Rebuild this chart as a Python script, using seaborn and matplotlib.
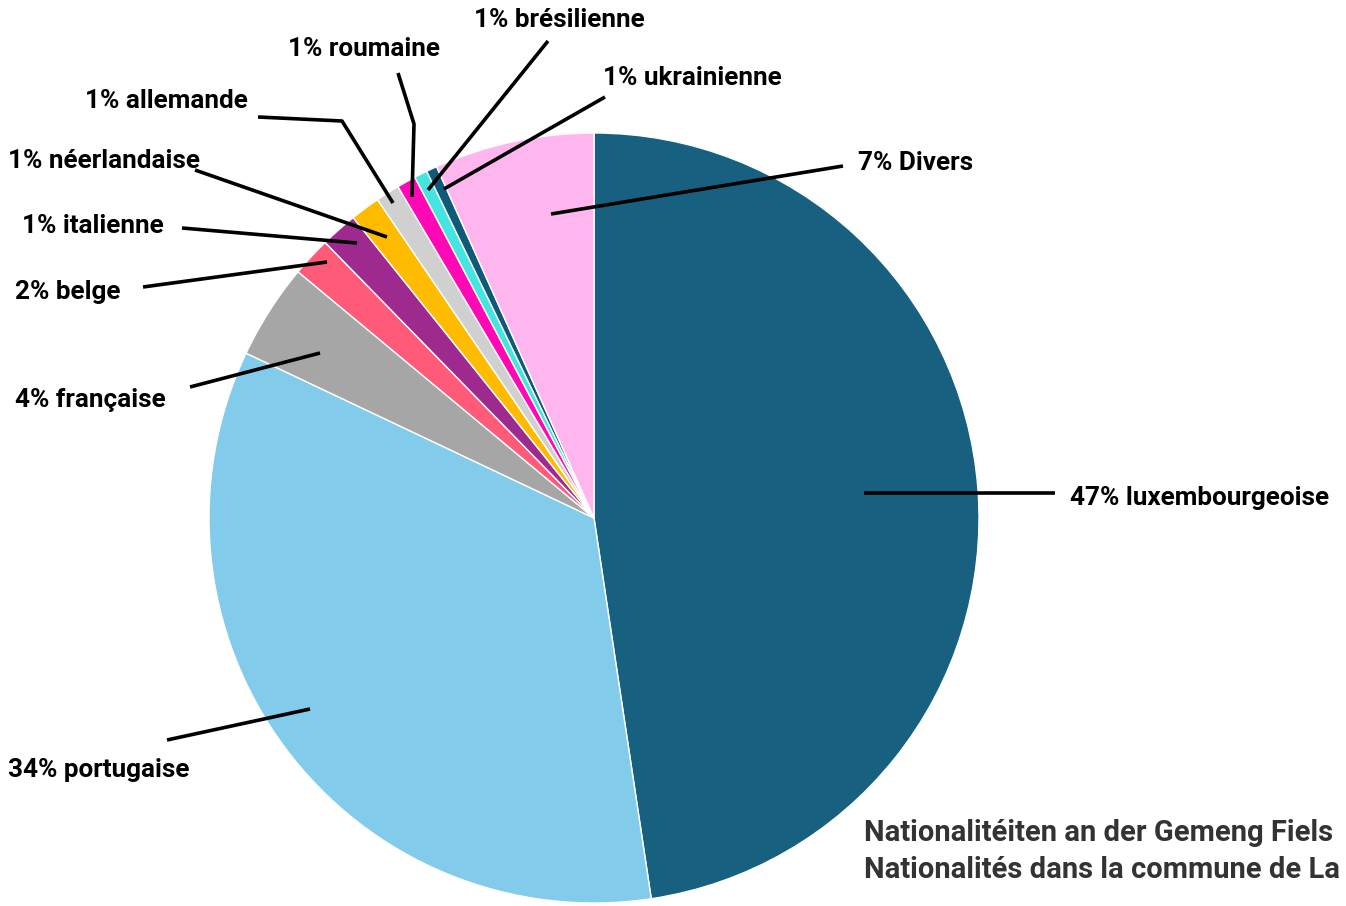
import matplotlib
matplotlib.use("Agg")
import matplotlib.pyplot as plt
import seaborn as sns

# ---- data ----
categories = ["luxembourgeoise", "portugaise", "française", "belge", "italienne",
              "néerlandaise", "allemande", "roumaine", "brésilienne", "ukrainienne", "Divers"]
values = [47.6, 34.4, 4.0, 1.65, 1.55, 1.25, 1.0, 0.8, 0.55, 0.45, 6.7]
pct_labels = ["47%", "34%", "4%", "2%", "1%", "1%", "1%", "1%", "1%", "1%", "7%"]
colors = ["#17607f", "#82cbea", "#a6a6a6", "#ff5a78", "#9e2a8f", "#ffbb00",
          "#d0d0d0", "#ff08b6", "#44e4e0", "#0e5a78", "#ffb6ee"]
title_lines = ["Nationalitéiten an der Gemeng Fiels", "Nationalités dans la commune de La"]

# ---- layout (pixel coordinates, y from top) ----
W, H = 1346, 906
center_px = (594, 518)
radius_px = 385
leaders = {
    "luxembourgeoise": ([(864, 493), (1055, 493)], (1070, 498)),
    "portugaise": ([(310, 709), (167, 740)], (8, 770)),
    "française": ([(320, 353), (190, 387)], (15, 400)),
    "belge": ([(327, 262), (143, 287)], (15, 292)),
    "italienne": ([(357, 243), (182, 228)], (22, 226)),
    "néerlandaise": ([(387, 237), (195, 170)], (8, 161)),
    "allemande": ([(393, 203), (342, 121), (258, 117)], (85, 101)),
    "roumaine": ([(412, 197), (414, 124), (398, 73)], (288, 49)),
    "brésilienne": ([(428, 190), (548, 41)], (474, 20)),
    "ukrainienne": ([(444, 189), (605, 97)], (603, 78)),
    "Divers": ([(551, 214), (843, 166)], (858, 163)),
}

sns.set_theme(style="white")
plt.rcParams["font.family"] = ["Roboto", "DejaVu Sans"]

fig = plt.figure(figsize=(W / 100, H / 100), dpi=100)
ax = fig.add_axes([0, 0, 1, 1])

def fy(y):
    return H - y

ax.pie(values, colors=colors, startangle=90, counterclock=False,
       center=(center_px[0], fy(center_px[1])), radius=radius_px,
       wedgeprops=dict(edgecolor="white", linewidth=1.0), frame=True)
ax.set_xlim(0, W)
ax.set_ylim(0, H)
ax.set_aspect("equal")
ax.axis("off")

for cat, pct in zip(categories, pct_labels):
    pts, (lx, ly) = leaders[cat]
    ax.plot([p[0] for p in pts], [fy(p[1]) for p in pts], color="black",
            lw=2.6, solid_capstyle="butt", zorder=5)
    ax.text(lx, fy(ly), f"{pct} {cat}", fontsize=18.8, fontweight="bold",
            color="black", ha="left", va="center", zorder=6)

for i, line in enumerate(title_lines):
    ax.text(864, fy(833 + 37 * i), line, fontsize=21, fontweight="bold",
            color="#333333", ha="left", va="center")

fig.savefig("out.png", dpi=100, facecolor="white")
